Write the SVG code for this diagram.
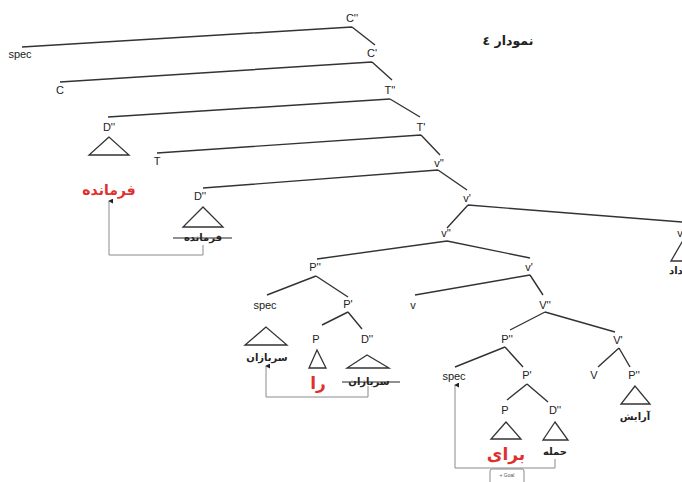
<svg xmlns="http://www.w3.org/2000/svg" width="682" height="482" viewBox="0 0 682 482">
  <defs>
    <marker id="tip" viewBox="0 0 6 6" refX="3" refY="1" markerWidth="5" markerHeight="5" orient="auto-start-reverse" markerUnits="userSpaceOnUse">
      <path d="M0,6 L3,0 L6,6 Z" fill="#222"/>
    </marker>
  </defs>
  <style>
    .lbl { font-family: "Liberation Sans", Arial, sans-serif; font-size: 11px; fill: #222; text-anchor: middle; }
    .fa { font-family: "DejaVu Sans", "Noto Sans", sans-serif; font-weight: bold; font-size: 10px; fill: #222; text-anchor: middle; }
    .red { fill: #e0302e; }
    .edge { stroke: #333; stroke-width: 1.4; fill: none; }
    .tri { stroke: #333; stroke-width: 1.3; fill: none; stroke-linejoin: miter; }
    .move { stroke: #8a8a8a; stroke-width: 1; fill: none; }
    .strike { stroke: #222; stroke-width: 1; }
  </style>
  <rect width="682" height="482" fill="#fff"/>

  <text class="fa" x="508" y="45" style="font-size:12.5px">نمودار ٤</text>

  <!-- branches -->
  <g id="edges">
    <path class="edge" d="M352,27 L22,47 M352,27 L375,45"/>
    <path class="edge" d="M372,62 L60,82 M372,62 L392,80"/>
    <path class="edge" d="M390,99 L108,117 M390,99 L420,117"/>
    <path class="edge" d="M421,135 L157,153 M421,135 L440,155"/>
    <path class="edge" d="M438,170 L203,188 M438,170 L467,190"/>
    <path class="edge" d="M468,205 L682,222 M468,205 L447,228"/>
    <path class="edge" d="M447,241 L317,259 M447,241 L530,258"/>
    <path class="edge" d="M316,276 L267,295 M316,276 L348,297"/>
    <path class="edge" d="M530,275 L415,295 M530,275 L543,295"/>
    <path class="edge" d="M348,312 L322,325 M348,312 L362,329"/>
    <path class="edge" d="M545,312 L510,330 M545,312 L615,332"/>
    <path class="edge" d="M505,347 L455,367 M505,347 L523,367"/>
    <path class="edge" d="M619,348 L598,367 M619,348 L630,367"/>
    <path class="edge" d="M527,384 L507,400 M527,384 L548,402"/>
  </g>

  <!-- movement paths -->
  <g id="movement">
    <path class="move" d="M203,245 V255 H109 V201" marker-end="url(#tip)"/>
    <path class="move" d="M368,386 V397 H266 V366" marker-end="url(#tip)"/>
    <path class="move" d="M555,459 V468 H455 V385" marker-end="url(#tip)"/>
    <rect class="move" x="490" y="469" width="34" height="18" rx="2"/>
    <text x="507" y="477" font-family="Liberation Sans, Arial, sans-serif" font-size="5" fill="#555" text-anchor="middle">+ Goal</text>
  </g>

  <g id="n-Cbar2"><text class="lbl" x="352" y="22">C''</text></g>
  <g id="n-spec1"><text class="lbl" x="20" y="58">spec</text></g>
  <g id="n-Cbar1"><text class="lbl" x="372" y="57">C'</text></g>
  <g id="n-C"><text class="lbl" x="60" y="94">C</text></g>
  <g id="n-Tbar2"><text class="lbl" x="390" y="94">T''</text></g>
  <g id="n-D1">
    <text class="lbl" x="109" y="131">D''</text>
    <polygon class="tri" points="109,137 89,155 129,155"/>
    <text class="fa red" x="109" y="195" style="font-size:14px">فرمانده</text>
  </g>
  <g id="n-Tbar1"><text class="lbl" x="421" y="131">T'</text></g>
  <g id="n-T"><text class="lbl" x="157" y="165">T</text></g>
  <g id="n-vbar2a"><text class="lbl" x="439" y="167">v''</text></g>
  <g id="n-D2">
    <text class="lbl" x="200" y="200">D''</text>
    <polygon class="tri" points="203,207 183,227 223,227"/>
    <text class="fa" x="203" y="241">فرمانده</text>
    <line class="strike" x1="173" y1="238" x2="232" y2="238"/>
  </g>
  <g id="n-vbar1a"><text class="lbl" x="467" y="202">v'</text></g>
  <g id="n-vbar2b"><text class="lbl" x="446" y="237">v''</text></g>
  <g id="n-v-right">
    <text class="lbl" x="680" y="237">v</text>
    <polygon class="tri" points="682,242 671,261 693,261"/>
    <text class="fa" x="669" y="274" style="text-anchor:start">داد</text>
  </g>
  <g id="n-Pbar2a"><text class="lbl" x="315" y="271">P''</text></g>
  <g id="n-vbar1b"><text class="lbl" x="529" y="271">v'</text></g>
  <g id="n-spec2">
    <text class="lbl" x="265" y="309">spec</text>
    <polygon class="tri" points="266,327 245,345 287,345"/>
    <text class="fa" x="267" y="361">سربازان</text>
  </g>
  <g id="n-Pbar1a"><text class="lbl" x="348" y="308">P'</text></g>
  <g id="n-v"><text class="lbl" x="413" y="309">v</text></g>
  <g id="n-Vbar2"><text class="lbl" x="545" y="309">V''</text></g>
  <g id="n-P1">
    <text class="lbl" x="316" y="343">P</text>
    <polygon class="tri" points="317,350 309,368 326,368"/>
    <text class="fa red" x="318" y="389" style="font-size:17px">را</text>
  </g>
  <g id="n-D3">
    <text class="lbl" x="367" y="343">D''</text>
    <polygon class="tri" points="367,355 347,368 389,368"/>
    <text class="fa" x="369" y="385">سربازان</text>
    <line class="strike" x1="342" y1="382" x2="400" y2="382"/>
  </g>
  <g id="n-Pbar2b"><text class="lbl" x="507" y="343">P''</text></g>
  <g id="n-Vbar1"><text class="lbl" x="618" y="344">V'</text></g>
  <g id="n-spec3"><text class="lbl" x="454" y="380">spec</text></g>
  <g id="n-Pbar1b"><text class="lbl" x="527" y="379">P'</text></g>
  <g id="n-V"><text class="lbl" x="594" y="379">V</text></g>
  <g id="n-Pbar2c">
    <text class="lbl" x="634" y="379">P''</text>
    <polygon class="tri" points="635,386 621,404 650,404"/>
    <text class="fa" x="635" y="420">آرایش</text>
  </g>
  <g id="n-P2">
    <text class="lbl" x="505" y="414">P</text>
    <polygon class="tri" points="506,422 491,439 521,439"/>
    <text class="fa red" x="506" y="460" style="font-size:17px">برای</text>
  </g>
  <g id="n-D4">
    <text class="lbl" x="555" y="414">D''</text>
    <polygon class="tri" points="555,422 543,440 568,440"/>
    <text class="fa" x="555" y="455">حمله</text>
  </g>
</svg>
